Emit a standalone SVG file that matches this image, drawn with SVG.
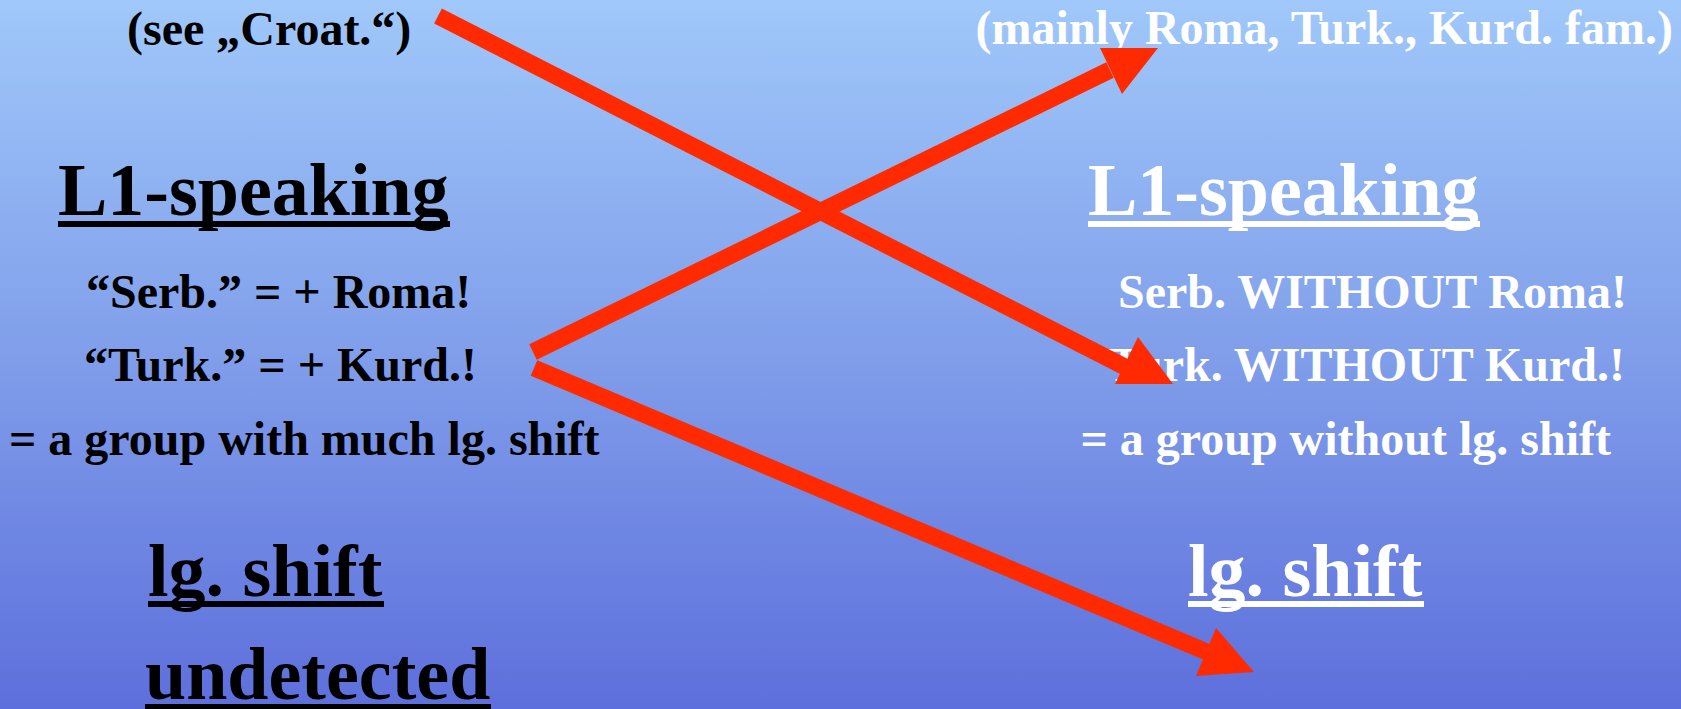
<svg xmlns="http://www.w3.org/2000/svg" width="1681" height="709" viewBox="0 0 1681 709">
  <defs>
    <linearGradient id="bg" x1="0" y1="0" x2="0" y2="1">
      <stop offset="0" stop-color="#A0C8FA"/>
      <stop offset="0.5" stop-color="#809EEA"/>
      <stop offset="1" stop-color="#5D6FDC"/>
    </linearGradient>
    <style>
      text { font-family: "Liberation Serif", "Times New Roman", serif; font-weight: bold; }
      .sm { font-size: 48px; }
      .big { font-size: 74px; }
      .blk { fill: #000000; }
      .wht { fill: #FFFFFF; }
      .arrow { stroke: #FF2A00; stroke-width: 17; stroke-linecap: butt; fill: none; }
      .head { fill: #FF2A00; }
    </style>
  </defs>
  <rect x="0" y="0" width="1681" height="709" fill="url(#bg)"/>

  <g id="left-note"><text class="sm blk" x="127" y="45">(see „Croat.“)</text></g>
  <g id="right-note"><text class="sm wht" x="1673" y="44" text-anchor="end">(mainly Roma, Turk., Kurd. fam.)</text></g>

  <g id="left-l1">
    <text class="big blk" x="58" y="215">L1-speaking</text>
    <rect class="blk" x="58" y="221" width="392" height="6"/>
    <text class="sm blk" x="86" y="308">“Serb.” = + Roma!</text>
    <text class="sm blk" x="84" y="381">“Turk.” = + Kurd.!</text>
    <text class="sm blk" x="9" y="455">= a group with much lg. shift</text>
  </g>

  <g id="right-l1">
    <text class="big wht" x="1088" y="215">L1-speaking</text>
    <rect class="wht" x="1088" y="221" width="392" height="6"/>
    <text class="sm wht" x="1627" y="308" text-anchor="end">Serb. WITHOUT Roma!</text>
    <text class="sm wht" x="1625" y="381" text-anchor="end">Turk. WITHOUT Kurd.!</text>
    <text class="sm wht" x="1611" y="455" text-anchor="end">= a group without lg. shift</text>
  </g>

  <g id="left-shift">
    <text class="big blk" x="148" y="596">lg. shift</text>
    <rect class="blk" x="148" y="601" width="236" height="6"/>
    <text class="big blk" x="145" y="699">undetected</text>
    <rect class="blk" x="145" y="704" width="346" height="6"/>
  </g>

  <g id="right-shift">
    <text class="big wht" x="1188" y="596">lg. shift</text>
    <rect class="wht" x="1188" y="601" width="236" height="6"/>
  </g>

  <g id="connectors">
    <line class="arrow" x1="438" y1="16" x2="1127" y2="368"/>
    <polygon class="head" points="1138,337 1115,384 1173,384"/>
    <line class="arrow" x1="533" y1="352" x2="1110" y2="70"/>
    <polygon class="head" points="1100,48 1158,48 1122,94"/>
    <line class="arrow" x1="534" y1="368" x2="1207" y2="652"/>
    <polygon class="head" points="1216,628 1196,676 1254,672"/>
  </g>
</svg>
